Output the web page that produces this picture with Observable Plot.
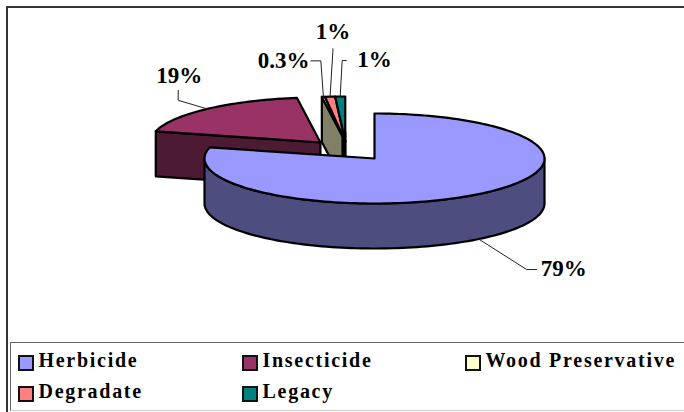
<!DOCTYPE html>
<html>
<head>
<meta charset="utf-8">
<script src="https://cdn.jsdelivr.net/npm/d3@7"></script>
<script src="https://cdn.jsdelivr.net/npm/@observablehq/plot@0.6"></script>
<style>
html,body{margin:0;padding:0;background:#fff;width:684px;height:412px;overflow:hidden}
#wrap{position:relative;width:684px;height:412px;font-family:"Liberation Serif",serif}
#frame{position:absolute;left:6px;top:6px;width:700px;height:420px;border-left:2px solid #333;border-top:2px solid #333}
#chart{position:absolute;left:0;top:0}
#chart svg{display:block;background:transparent}
#legend{position:absolute;left:10px;top:342px;width:690px;height:69px;box-sizing:border-box;border:1.5px solid #666;border-bottom-color:#ccc;background:#fff;
display:grid;grid-template-columns:224px 223px 1fr;grid-auto-rows:31px;padding:4px 0 0 6.5px;align-items:center}
.item{display:flex;align-items:center;font-weight:bold;font-size:20px;letter-spacing:1.72px;color:#000;white-space:nowrap}
.item .t{position:relative;top:-2px}
.sw{width:12px;height:12px;border:2px solid #111;margin-right:5px;flex:none}
</style>
</head>
<body>
<div id="wrap"><div id="frame"></div><div id="chart"></div><div id="legend"></div></div>
<script>
const categories = ["Herbicide", "Insecticide", "Wood Preservative", "Degradate", "Legacy"];
const shares = [79, 18.8, 0.3, 0.95, 0.95];
const shareLabels = ["79%", "19%", "0.3%", "1%", "1%"];
const topColors = ["#9999ff", "#993366", "#ffffcc", "#ff8080", "#008080"];
const sideColors = ["#4d4d80", "#4d1a33", "#808066", "#804040", "#004040"];
// explosion of each slice from the pie centre, in radii
const explodeX = [0, -0.318, -0.172, -0.172, -0.172];
const explodeY = [0, 0.356, 0.378, 0.378, 0.378];
// leader offsets from the rim, in pixels: elbow, end, text
const elbowDX = [48, -29, -2.6, 3, 2];
const elbowDY = [30.5, -8.6, -36, -48, -36];
const endDX = [58, -29, -12.6, 3, 6];
const endDY = [30.5, -18.6, -36, -48, -36];
const textDX = [62, -28, -14, 3, 17];
const textDY = [29.5, -33.5, -36, -65, -37];
const anchors = ["start", "middle", "end", "middle", "start"];

const width = 684, height = 342;
const rx = 170, ry = 45, cx = 374, cy = 158, depth = 1;
const xDomain = [-cx / rx, (width - cx) / rx];
const yDomain = [cy / ry, (cy - height) / ry];

const total = d3.sum(shares);
let acc = 0;
const slices = shares.map((v, i) => {
  const a0 = acc / total * 2 * Math.PI;
  acc += v;
  const a1 = acc / total * 2 * Math.PI;
  return {i, a0, a1, ox: explodeX[i], oy: explodeY[i]};
});
const rim = (s, a, d = 0) => ({x: s.ox + Math.sin(a), y: s.oy + Math.cos(a) - d});
const apex = (s, d = 0) => ({x: s.ox, y: s.oy - d});
const arc = (s, a0, a1, d = 0) => {
  const n = Math.max(2, Math.ceil(Math.abs(a1 - a0) / 0.03));
  return d3.range(n + 1).map(k => rim(s, a0 + (a1 - a0) * k / n, d));
};
const polys = [];
const add = (id, fill, pts) => {
  pts = [...pts, pts[0]];
  pts.forEach(p => polys.push({id, fill, x: p.x, y: p.y}));
};
const topFace = s => [apex(s), ...arc(s, s.a0, s.a1)];
const cutFace = s => [rim(s, s.a0), apex(s), apex(s, depth), rim(s, s.a0, depth)];

// back to front
const [herb, ins, wood, deg, leg] = slices;
add("ins-cut", sideColors[1], cutFace(ins));
add("ins-top", topColors[1], topFace(ins));
add("wood-cut", sideColors[2], cutFace(wood));
add("wood-top", topColors[2], topFace(wood));
add("deg-top", topColors[3], topFace(deg));
add("leg-top", topColors[4], topFace(leg));
const wallA0 = Math.PI / 2, wallA1 = 3 * Math.PI / 2;
add("herb-wall", sideColors[0], [...arc(herb, wallA0, wallA1), ...arc(herb, wallA1, wallA0, depth)]);
add("herb-top", topColors[0], topFace(herb));

const seamShift = -0.008;
const seam = [apex(leg, -0.2), apex(leg, depth)].map(p => ({x: p.x + seamShift, y: p.y}));

const px = (dx, dy) => ({x: dx / rx, y: -dy / ry});
const leaders = [], texts = [];
slices.forEach(s => {
  const i = s.i, mid = (s.a0 + s.a1) / 2;
  const wall = i === 0 ? depth : 0;
  const st = rim(s, mid, wall);
  const off = (dx, dy) => ({x: st.x + px(dx, dy).x, y: st.y + px(dx, dy).y});
  [st, off(elbowDX[i], elbowDY[i]), off(endDX[i], endDY[i])].forEach(p => leaders.push({i, ...p}));
  texts.push({i, label: shareLabels[i], anchor: anchors[i], ...off(textDX[i], textDY[i])});
});
const textMark = a => Plot.text(texts.filter(d => d.anchor === a), {
  x: "x", y: "y", text: "label", textAnchor: a, lineAnchor: "middle",
  fontFamily: "Liberation Serif", fontWeight: "bold", fontSize: 23, fill: "#000"
});

const plot = Plot.plot({
  width, height, margin: 0,
  x: {domain: xDomain, range: [0, width], axis: null},
  y: {domain: yDomain, range: [0, height], axis: null},
  color: {type: "identity"},
  style: {background: "transparent"},
  marks: [
    Plot.line(polys.filter(d => !d.id.startsWith("herb")), {x: "x", y: "y", z: "id", fill: "fill", stroke: "#000", strokeWidth: 2.2, strokeLinejoin: "round"}),
    Plot.line(seam, {x: "x", y: "y", stroke: "#000", strokeWidth: 5}),
    Plot.line(polys.filter(d => d.id.startsWith("herb")), {x: "x", y: "y", z: "id", fill: "fill", stroke: "#000", strokeWidth: 2.2, strokeLinejoin: "round"}),
    Plot.line(leaders, {x: "x", y: "y", z: "i", stroke: "#222", strokeWidth: 1}),
    textMark("start"), textMark("middle"), textMark("end")
  ]
});
document.getElementById("chart").appendChild(plot);

const legend = d3.select("#legend");
categories.forEach((c, i) => {
  const it = legend.append("div").attr("class", "item");
  it.append("span").attr("class", "sw").style("background", topColors[i]);
  it.append("span").attr("class", "t").text(c);
});
</script>
</body>
</html>
